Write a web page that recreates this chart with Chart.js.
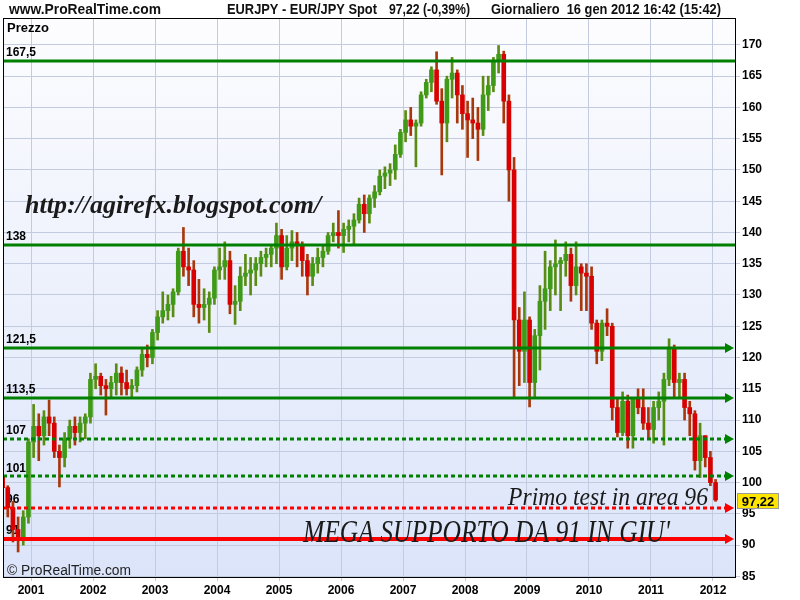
<!DOCTYPE html>
<html>
<head>
<meta charset="utf-8">
<script src="https://cdn.jsdelivr.net/npm/chart.js@4/dist/chart.umd.min.js"></script>
<style>
  html, body { margin: 0; padding: 0; background: #fff; }
  canvas { display: block; }
</style>
</head>
<body>
<canvas id="chart" width="800" height="600"></canvas>
<script>
// EUR/JPY, one bar per month from Jul 2000 to 16 Jan 2012
const firstMonth = [2000, 7];

const opens = [
  101.0, 99.2, 96.0, 92.5, 91.0, 94.5,                                        // 2000 (Jul-Dec)
  106.5, 109.0, 107.5, 110.5, 109.5, 105.0, 104.0, 107.0, 109.0, 108.0, 109.5, 110.5, // 2001
  116.5, 117.0, 115.5, 115.0, 116.0, 117.5, 116.0, 115.0, 115.5, 118.0, 120.5, 120.0, // 2002
  124.0, 126.5, 127.5, 128.5, 130.5, 137.0, 134.5, 134.0, 128.5, 128.0, 128.5, 129.5, // 2003
  134.0, 134.5, 135.5, 128.5, 129.0, 133.0, 133.5, 134.0, 135.0, 136.0, 136.5, 137.5, // 2004
  139.5, 134.5, 137.5, 138.5, 138.0, 135.5, 133.0, 135.0, 136.0, 137.0, 139.5, 140.0, // 2005
  139.5, 140.5, 141.0, 142.0, 144.5, 143.0, 145.5, 146.5, 149.0, 149.5, 150.0, 152.5, // 2006
  156.0, 158.0, 157.0, 157.5, 162.0, 164.0, 166.0, 161.0, 157.5, 164.5, 165.5, 162.0, // 2007
  159.0, 158.0, 157.5, 156.5, 162.0, 163.5, 167.5, 168.5, 161.0, 150.0, 126.0, 121.0, // 2008
  126.0, 116.0, 123.5, 129.0, 131.0, 134.5, 135.0, 135.5, 136.5, 131.5, 134.5, 133.5, // 2009
  133.0, 125.5, 121.0, 125.5, 125.0, 112.0, 108.0, 113.0, 107.5, 113.5, 112.0, 109.5, // 2010
  108.5, 112.0, 113.0, 116.5, 121.5, 116.0, 116.5, 112.0, 111.0, 103.5, 107.5, 104.0, // 2011
  100.0                                                                         // 2012 (Jan)
];
const highs = [
  101.8, 99.5, 97.0, 94.5, 95.5, 107.0,
  112.5, 111.0, 111.5, 113.2, 110.5, 106.0, 108.0, 110.0, 110.5, 110.5, 111.0, 117.5,
  119.0, 117.5, 116.5, 117.0, 119.0, 118.5, 118.0, 116.5, 118.5, 121.5, 122.0, 124.5,
  127.5, 130.5, 130.0, 131.0, 137.5, 140.8, 137.5, 135.5, 132.5, 131.0, 130.5, 134.5,
  137.5, 138.5, 137.0, 131.5, 134.5, 136.5, 136.0, 136.0, 137.0, 137.5, 138.0, 141.5,
  140.5, 139.5, 140.3, 140.0, 138.5, 136.5, 136.0, 137.5, 138.0, 140.0, 141.5, 143.5,
  141.5, 142.0, 143.0, 145.5, 146.0, 146.0, 147.5, 150.0, 150.5, 151.0, 154.0, 156.5,
  159.5, 160.0, 158.0, 162.5, 164.5, 166.5, 168.9, 163.0, 165.0, 168.0, 166.0, 163.5,
  161.0, 161.5, 160.0, 165.0, 165.0, 168.0, 169.9, 169.0, 162.0, 152.0, 128.0, 130.5,
  126.5, 124.5, 131.5, 137.0, 135.5, 138.8, 136.0, 138.5, 137.5, 138.5, 135.0, 135.0,
  134.5, 126.0, 126.0, 127.8, 125.5, 113.5, 114.5, 114.0, 113.5, 115.0, 115.0, 112.0,
  113.0, 114.5, 117.5, 123.0, 122.0, 117.5, 117.5, 113.0, 111.5, 109.5, 107.5, 105.0,
  100.5
];
const lows = [
  98.8, 94.5, 90.5, 88.9, 90.0, 93.5,
  104.0, 103.5, 106.0, 107.5, 104.0, 99.3, 102.5, 105.5, 106.0, 106.5, 107.0, 109.5,
  115.0, 114.0, 110.8, 113.5, 114.0, 114.0, 114.0, 113.5, 114.5, 117.0, 118.5, 119.0,
  122.8, 125.5, 126.0, 126.5, 130.0, 133.0, 131.5, 126.5, 125.5, 126.0, 124.0, 128.5,
  132.5, 132.5, 127.0, 125.3, 127.5, 131.5, 130.0, 131.5, 133.0, 134.5, 134.5, 135.0,
  132.5, 134.0, 135.5, 134.5, 133.0, 130.0, 131.5, 133.5, 134.5, 136.5, 138.5, 137.5,
  136.8, 138.5, 138.0, 141.5, 140.0, 141.5, 144.0, 146.0, 147.0, 147.5, 148.5, 152.0,
  154.5, 155.5, 150.5, 157.0, 161.5, 162.5, 160.5, 149.2, 154.5, 161.5, 157.5, 156.5,
  152.0, 155.0, 151.5, 155.5, 159.5, 162.5, 165.5, 157.5, 145.0, 113.6, 115.5, 116.0,
  112.1, 113.5, 118.0, 124.5, 127.5, 130.0, 127.5, 133.0, 129.0, 130.0, 127.5, 127.5,
  124.5, 119.0, 119.5, 123.5, 110.0, 107.3, 107.5, 105.5, 105.5, 111.0, 108.5, 107.0,
  106.3, 110.0, 106.0, 115.5, 113.5, 113.5, 110.0, 107.5, 102.0, 100.8, 102.5, 99.5,
  97.0
];
const closes = [
  99.2, 96.0, 92.5, 91.0, 94.5, 106.5,
  109.0, 107.5, 110.5, 109.5, 105.0, 104.0, 107.0, 109.0, 108.0, 109.5, 110.5, 116.5,
  117.0, 115.5, 115.0, 116.0, 117.5, 116.0, 115.0, 115.5, 118.0, 120.5, 120.0, 124.0,
  126.5, 127.5, 128.5, 130.5, 137.0, 134.5, 134.0, 128.5, 128.0, 128.5, 129.5, 134.0,
  134.5, 135.5, 128.5, 129.0, 133.0, 133.5, 134.0, 135.0, 136.0, 136.5, 137.5, 139.5,
  134.5, 137.5, 138.5, 138.0, 135.5, 133.0, 135.0, 136.0, 137.0, 139.5, 140.0, 139.5,
  140.5, 141.0, 142.0, 144.5, 143.0, 145.5, 146.5, 149.0, 149.5, 150.0, 152.5, 156.0,
  158.0, 157.0, 157.5, 162.0, 164.0, 166.0, 161.0, 157.5, 164.5, 165.5, 162.0, 159.0,
  158.0, 157.5, 156.5, 162.0, 163.5, 167.5, 168.5, 161.0, 150.0, 126.0, 121.0, 126.0,
  116.0, 123.5, 129.0, 131.0, 134.5, 135.0, 135.5, 136.5, 131.5, 134.5, 133.5, 133.0,
  125.5, 121.0, 125.5, 125.0, 112.0, 108.0, 113.0, 107.5, 113.5, 112.0, 109.5, 108.5,
  112.0, 113.0, 116.5, 121.5, 116.0, 116.5, 112.0, 111.0, 103.5, 107.5, 104.0, 100.0,
  97.22
];

// horizontal levels drawn by the author, with their left-side labels
const levels = [167.5, 138, 121.5, 113.5, 107, 101, 96, 91];
const levelLabels = ['167,5', '138', '121,5', '113,5', '107', '101', '96', '91'];
const lastPrice = 97.22;
const lastPriceLabel = '97,22';

// look of each level line (same order as levels)
const GREEN = '#008000', RED = '#ff0000';
const levelLook = [
  { color: GREEN, width: 3, dash: [], arrow: false },
  { color: GREEN, width: 3, dash: [], arrow: false },
  { color: GREEN, width: 3, dash: [], arrow: true },
  { color: GREEN, width: 3, dash: [], arrow: true },
  { color: GREEN, width: 3, dash: [4, 3], arrow: true },
  { color: GREEN, width: 3, dash: [4, 3], arrow: true },
  { color: RED, width: 3, dash: [4, 3], arrow: true },
  { color: RED, width: 4, dash: [], arrow: true }
];

const UP = '#3f9a17', DOWN = '#d80000';
const UP_WICK = '#5a8c14', DOWN_WICK = '#a8380c';
const monthPos = opens.map((o, i) => firstMonth[0] + (firstMonth[1] - 1 + i + 0.5) / 12);
const bodyColors = opens.map((o, i) => closes[i] >= o ? UP : DOWN);
const wickColors = opens.map((o, i) => closes[i] >= o ? UP_WICK : DOWN_WICK);

const deco = {
  id: 'deco',
  beforeDraw(chart) {
    const { ctx, chartArea: a } = chart;
    ctx.save();
    ctx.fillStyle = '#fff';
    ctx.fillRect(0, 0, chart.width, chart.height);
    const g = ctx.createLinearGradient(0, a.top, 0, a.bottom);
    g.addColorStop(0, '#fdfdff');
    g.addColorStop(1, '#dbe4f9');
    ctx.fillStyle = g;
    ctx.fillRect(a.left, a.top, a.right - a.left, a.bottom - a.top);
    ctx.restore();
  },
  beforeDatasetsDraw(chart) {
    const { ctx, chartArea: a, scales: { y } } = chart;
    ctx.save();
    ctx.fillStyle = '#000';
    ctx.textBaseline = 'middle';
    ctx.font = 'bold 13px "Liberation Sans", Arial, sans-serif';
    ctx.fillText('Prezzo', a.left + 4, a.top + 10);
    ctx.font = 'bold 12px "Liberation Sans", Arial, sans-serif';
    levels.forEach((v, i) => {
      ctx.fillText(levelLabels[i], a.left + 3, y.getPixelForValue(v) - 8);
    });
    ctx.restore();
  },
  afterDatasetsDraw(chart) {
    const { ctx, chartArea: a, scales: { y } } = chart;
    ctx.save();
    levels.forEach((v, i) => {
      const look = levelLook[i];
      const py = Math.round(y.getPixelForValue(v));
      const end = look.arrow ? a.right - 8 : a.right;
      ctx.strokeStyle = look.color;
      ctx.lineWidth = look.width;
      ctx.setLineDash(look.dash);
      ctx.beginPath();
      ctx.moveTo(a.left, py);
      ctx.lineTo(end, py);
      ctx.stroke();
      if (look.arrow) {
        ctx.setLineDash([]);
        ctx.fillStyle = look.color;
        ctx.beginPath();
        ctx.moveTo(a.right - 10, py - 5);
        ctx.lineTo(a.right - 1, py);
        ctx.lineTo(a.right - 10, py + 5);
        ctx.closePath();
        ctx.fill();
      }
    });
    ctx.setLineDash([]);

    // frame of the price panel
    ctx.strokeStyle = '#000';
    ctx.lineWidth = 1;
    ctx.strokeRect(a.left + 0.5, a.top + 0.5, a.right - a.left, a.bottom - a.top);

    // author notes
    ctx.fillStyle = '#1a1a1a';
    ctx.textBaseline = 'alphabetic';
    ctx.font = 'bold italic 26px "Liberation Serif", serif';
    ctx.fillText('http://agirefx.blogspot.com/', 25, 213, 300);
    ctx.font = 'italic 25px "Liberation Serif", serif';
    ctx.fillText('Primo test in area 96', 508, 505, 200);
    ctx.font = 'italic 31px "Liberation Serif", serif';
    ctx.fillText("MEGA SUPPORTO DA 91 IN GIU'", 303, 542, 367);

    ctx.fillStyle = '#222';
    ctx.textBaseline = 'middle';
    ctx.font = '14px "Liberation Sans", Arial, sans-serif';
    ctx.fillText('\u00a9 ProRealTime.com', a.left + 4, a.bottom - 6, 124);

    // last price tag
    const ty = Math.round(y.getPixelForValue(lastPrice)) + 1;
    ctx.fillStyle = '#ffe600';
    ctx.fillRect(a.right + 2, ty - 8, 42, 16);
    ctx.strokeStyle = '#9a9a9a';
    ctx.strokeRect(a.right + 2.5, ty - 7.5, 41, 15);
    ctx.fillStyle = '#000';
    ctx.font = 'bold 13px "Liberation Sans", Arial, sans-serif';
    ctx.textAlign = 'center';
    ctx.fillText(lastPriceLabel, a.right + 23, ty + 1);

    // header line
    ctx.textAlign = 'left';
    ctx.fillStyle = '#111';
    ctx.font = 'bold 15px "Liberation Sans", Arial, sans-serif';
    ctx.fillText('www.ProRealTime.com', 9, 10, 152);
    ctx.fillText('EURJPY - EUR/JPY Spot', 227, 10, 150);
    ctx.fillText('97,22 (-0,39%)', 389, 10, 81);
    ctx.fillText('Giornaliero  16 gen 2012 16:42 (15:42)', 491, 10, 230);
    ctx.restore();
  }
};

const tickFont = { family: '"Liberation Sans", Arial, sans-serif', size: 12, weight: 'bold' };
const gridColor = '#c3cbe0';

new Chart(document.getElementById('chart'), {
  type: 'bar',
  data: {
    datasets: [
      {
        // high-low range of each month
        data: monthPos.map((t, i) => ({ x: t, y: [lows[i], highs[i]] })),
        backgroundColor: wickColors,
        barThickness: 2,
        grouped: false,
        order: 2
      },
      {
        // open-close body
        data: monthPos.map((t, i) => ({ x: t, y: [Math.min(opens[i], closes[i]), Math.max(opens[i], closes[i])] })),
        backgroundColor: bodyColors,
        barThickness: 4,
        grouped: false,
        order: 1
      }
    ]
  },
  options: {
    responsive: false,
    animation: false,
    devicePixelRatio: 1,
    layout: { padding: { top: 18, left: 3, right: 0, bottom: 0 } },
    plugins: { legend: { display: false }, tooltip: { enabled: false } },
    scales: {
      x: {
        type: 'linear',
        offset: false,
        min: 2000.548,
        max: 2012.355,
        grid: { color: gridColor, offset: false, tickLength: 4 },
        border: { color: '#000' },
        ticks: {
          stepSize: 1,
          includeBounds: false,
          color: '#000',
          font: tickFont,
          padding: 2,
          maxRotation: 0,
          callback: v => String(v)
        },
        afterFit: s => { s.height = 23; }
      },
      y: {
        position: 'right',
        beginAtZero: false,
        min: 84.9,
        max: 174.3,
        grid: { color: gridColor, tickLength: 5 },
        border: { color: '#000' },
        ticks: {
          stepSize: 5,
          includeBounds: false,
          color: '#000',
          font: tickFont,
          padding: 2,
          callback: v => String(v)
        },
        afterFit: s => { s.width = 65; }
      }
    }
  },
  plugins: [deco]
});
</script>
</body>
</html>
